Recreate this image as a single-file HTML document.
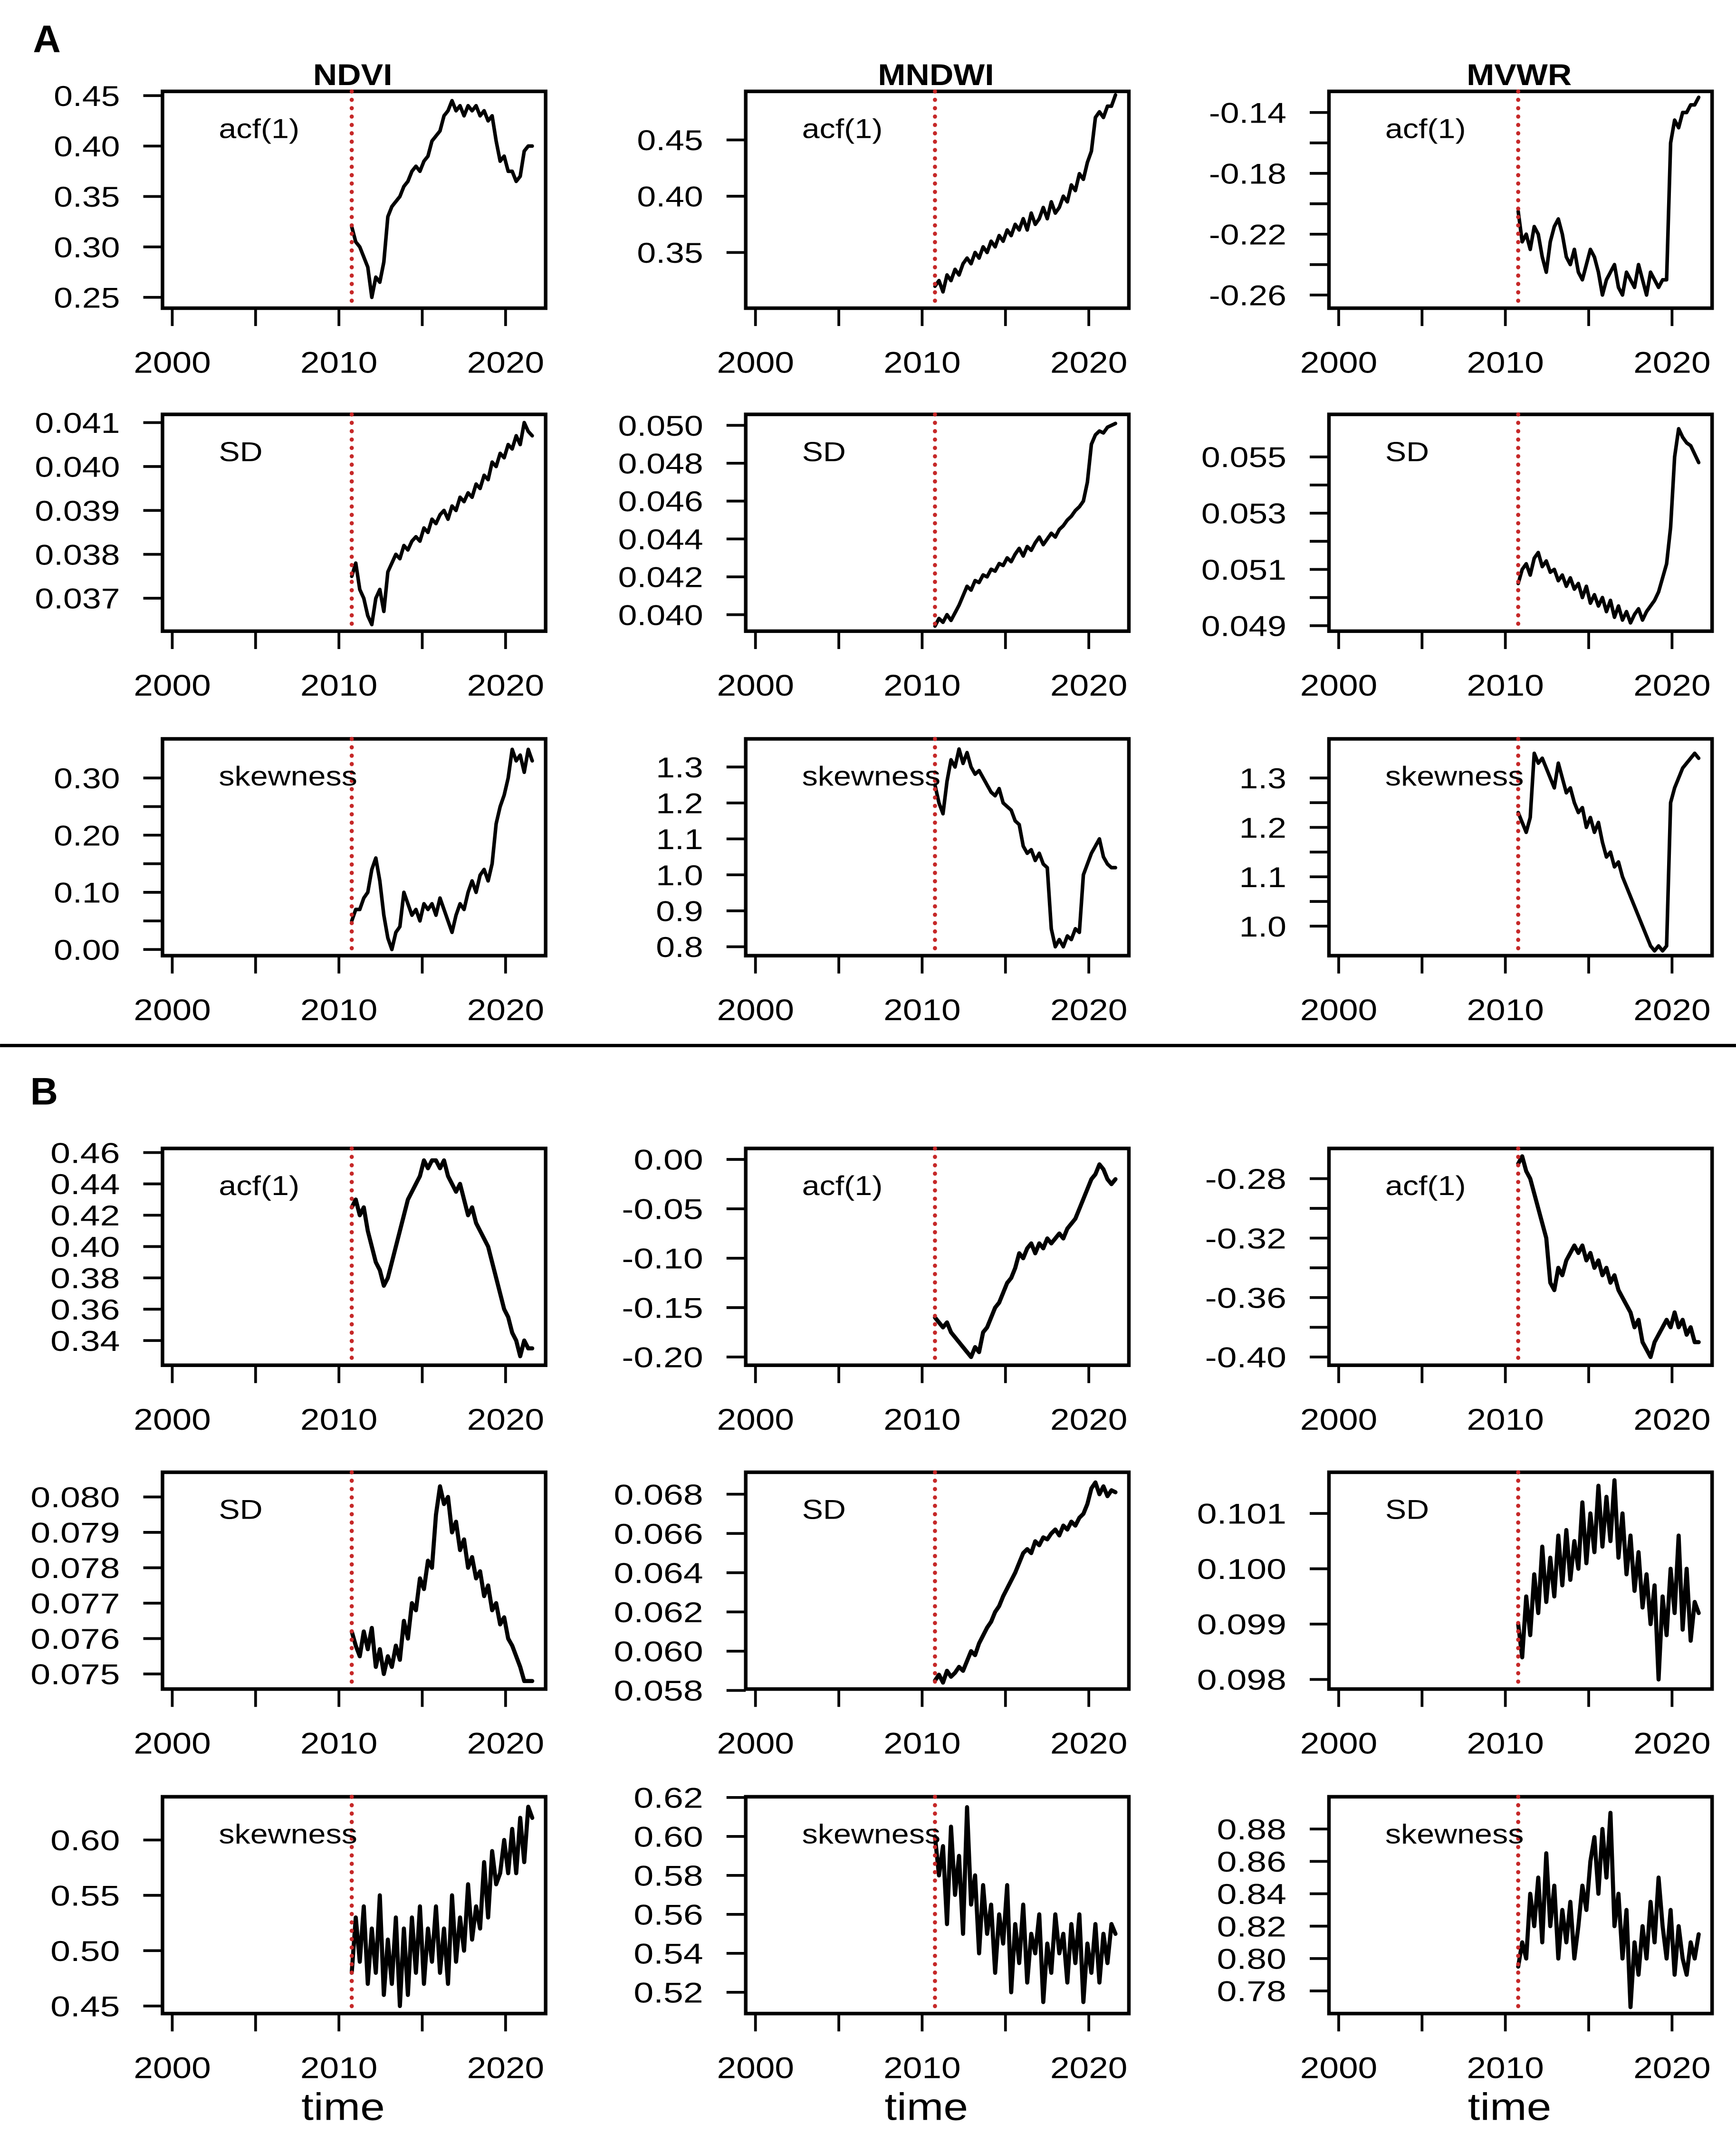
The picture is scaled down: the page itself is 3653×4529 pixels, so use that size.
<!DOCTYPE html>
<html><head><meta charset="utf-8"><style>
html,body{margin:0;padding:0;background:#fff;}
svg{display:block;}
text{font-family:"Liberation Sans",Arial,sans-serif;fill:#000;}
</style></head><body>
<svg id="fig" xmlns="http://www.w3.org/2000/svg" width="3653" height="4529" viewBox="0 0 1265 1568.4">
<rect x="0" y="0" width="1265" height="1568.4" fill="#fff"/>
</svg>
<script>
// ---- data (time runs from startYear to endYear, equally spaced samples) ----
const startYear = 2010.77;
const endYear = 2021.6;
const breakYear = 2010.77;
const xTickVals = [2000, 2005, 2010, 2015, 2020];
const xTickLabels = ['2000', '', '2010', '', '2020'];
const colTitles = ['NDVI', 'MNDWI', 'MVWR'];
const rowLabels = ['acf(1)', 'SD', 'skewness'];

const A_ndvi_acf = [0.32,0.305,0.30,0.29,0.28,0.25,0.27,0.265,0.285,0.33,0.34,0.345,0.35,0.36,0.365,0.375,0.38,0.375,0.385,0.39,0.405,0.41,0.415,0.43,0.435,0.445,0.435,0.44,0.43,0.44,0.435,0.44,0.43,0.435,0.425,0.43,0.405,0.385,0.39,0.375,0.375,0.365,0.37,0.395,0.40,0.40];
const A_mndwi_acf = [0.32,0.325,0.315,0.33,0.325,0.335,0.33,0.34,0.345,0.34,0.35,0.345,0.355,0.35,0.36,0.355,0.365,0.36,0.37,0.365,0.375,0.37,0.38,0.37,0.385,0.375,0.38,0.39,0.38,0.395,0.385,0.39,0.40,0.395,0.41,0.405,0.42,0.415,0.43,0.44,0.47,0.475,0.47,0.48,0.48,0.49];
const A_mvwr_acf = [-0.205,-0.225,-0.22,-0.23,-0.215,-0.22,-0.235,-0.245,-0.225,-0.215,-0.21,-0.22,-0.235,-0.24,-0.23,-0.245,-0.25,-0.24,-0.23,-0.235,-0.245,-0.26,-0.25,-0.245,-0.24,-0.255,-0.26,-0.245,-0.25,-0.255,-0.24,-0.25,-0.26,-0.245,-0.25,-0.255,-0.25,-0.25,-0.16,-0.145,-0.15,-0.14,-0.14,-0.135,-0.135,-0.13];
const A_ndvi_sd = [0.0375,0.0378,0.0372,0.0370,0.0366,0.0364,0.0370,0.0372,0.0367,0.0376,0.0378,0.0380,0.0379,0.0382,0.0381,0.0383,0.0384,0.0383,0.0386,0.0385,0.0388,0.0387,0.0389,0.0390,0.0388,0.0391,0.0390,0.0393,0.0392,0.0394,0.0393,0.0396,0.0395,0.0398,0.0397,0.0401,0.0400,0.0403,0.0402,0.0405,0.0404,0.0407,0.0405,0.0410,0.0408,0.0407];
const A_mndwi_sd = [0.0394,0.0398,0.0396,0.0400,0.0397,0.0401,0.0405,0.0410,0.0415,0.0413,0.0418,0.0417,0.0421,0.0420,0.0424,0.0423,0.0427,0.0426,0.0430,0.0428,0.0432,0.0435,0.0431,0.0436,0.0434,0.0438,0.0441,0.0437,0.0440,0.0443,0.0441,0.0445,0.0447,0.0450,0.0452,0.0455,0.0457,0.0460,0.0470,0.0490,0.0495,0.0497,0.0496,0.0499,0.0500,0.0501];
const A_mvwr_sd = [0.0505,0.0510,0.0512,0.0508,0.0514,0.0516,0.0511,0.0513,0.0509,0.0510,0.0506,0.0508,0.0504,0.0507,0.0503,0.0505,0.0500,0.0504,0.0498,0.0501,0.0497,0.0500,0.0495,0.0499,0.0493,0.0497,0.0492,0.0495,0.0491,0.0494,0.0496,0.0492,0.0495,0.0497,0.0499,0.0502,0.0507,0.0512,0.0525,0.0550,0.0560,0.0557,0.0555,0.0554,0.0551,0.0548];
const A_ndvi_skew = [0.05,0.07,0.07,0.09,0.10,0.14,0.16,0.12,0.06,0.02,0.00,0.03,0.04,0.10,0.08,0.06,0.07,0.05,0.08,0.07,0.08,0.06,0.09,0.07,0.05,0.03,0.06,0.08,0.07,0.10,0.12,0.10,0.13,0.14,0.12,0.15,0.22,0.25,0.27,0.30,0.35,0.33,0.34,0.31,0.35,0.33];
const A_mndwi_skew = [1.25,1.20,1.17,1.26,1.32,1.30,1.35,1.31,1.34,1.30,1.28,1.29,1.27,1.25,1.23,1.22,1.24,1.20,1.19,1.18,1.15,1.14,1.08,1.06,1.07,1.04,1.06,1.03,1.02,0.85,0.80,0.82,0.80,0.83,0.82,0.85,0.84,1.00,1.03,1.06,1.08,1.10,1.05,1.03,1.02,1.02];
const A_mvwr_skew = [1.23,1.21,1.19,1.22,1.35,1.33,1.34,1.32,1.30,1.28,1.33,1.30,1.27,1.28,1.25,1.23,1.24,1.20,1.22,1.19,1.21,1.17,1.14,1.15,1.12,1.13,1.10,1.08,1.06,1.04,1.02,1.00,0.98,0.96,0.95,0.96,0.95,0.96,1.25,1.28,1.30,1.32,1.33,1.34,1.35,1.34];
const B_ndvi_acf = [0.425,0.43,0.42,0.425,0.41,0.40,0.39,0.385,0.375,0.38,0.39,0.40,0.41,0.42,0.43,0.435,0.44,0.445,0.455,0.45,0.455,0.455,0.45,0.455,0.445,0.44,0.435,0.44,0.43,0.42,0.425,0.415,0.41,0.405,0.40,0.39,0.38,0.37,0.36,0.355,0.345,0.34,0.33,0.34,0.335,0.335];
const B_mndwi_acf = [-0.16,-0.165,-0.17,-0.165,-0.175,-0.18,-0.185,-0.19,-0.195,-0.20,-0.19,-0.195,-0.175,-0.17,-0.16,-0.15,-0.145,-0.135,-0.125,-0.12,-0.11,-0.095,-0.10,-0.09,-0.085,-0.095,-0.085,-0.09,-0.08,-0.085,-0.08,-0.075,-0.08,-0.07,-0.065,-0.06,-0.05,-0.04,-0.03,-0.02,-0.015,-0.005,-0.01,-0.02,-0.025,-0.02];
const B_mvwr_acf = [-0.27,-0.265,-0.275,-0.28,-0.29,-0.30,-0.31,-0.32,-0.35,-0.355,-0.34,-0.345,-0.335,-0.33,-0.325,-0.33,-0.325,-0.335,-0.33,-0.34,-0.335,-0.345,-0.34,-0.35,-0.345,-0.355,-0.36,-0.365,-0.37,-0.38,-0.375,-0.39,-0.395,-0.40,-0.39,-0.385,-0.38,-0.375,-0.38,-0.37,-0.38,-0.375,-0.385,-0.38,-0.39,-0.39];
const B_ndvi_sd = [0.0762,0.0758,0.0755,0.0762,0.0757,0.0763,0.0752,0.0757,0.0750,0.0755,0.0752,0.0758,0.0754,0.0765,0.0760,0.0770,0.0768,0.0777,0.0774,0.0782,0.0780,0.0795,0.0803,0.0798,0.0800,0.0790,0.0793,0.0785,0.0788,0.0780,0.0783,0.0777,0.0779,0.0772,0.0775,0.0768,0.0770,0.0764,0.0766,0.0760,0.0758,0.0755,0.0752,0.0748,0.0748,0.0748];
const B_mndwi_sd = [0.0585,0.0588,0.0584,0.0590,0.0587,0.0589,0.0592,0.0590,0.0595,0.0600,0.0598,0.0604,0.0608,0.0612,0.0615,0.0620,0.0623,0.0628,0.0632,0.0636,0.0640,0.0645,0.0650,0.0652,0.0650,0.0656,0.0654,0.0658,0.0657,0.0660,0.0662,0.0659,0.0664,0.0662,0.0666,0.0664,0.0668,0.0670,0.0675,0.0683,0.0686,0.0680,0.0684,0.0679,0.0682,0.0681];
const B_mvwr_sd = [0.0990,0.0984,0.0995,0.0988,0.0999,0.0992,0.1004,0.0994,0.1002,0.0995,0.1006,0.0997,0.1007,0.0998,0.1005,0.1000,0.1012,0.1001,0.1010,0.1003,0.1015,0.1004,0.1013,0.1005,0.1016,0.1002,0.1010,0.0999,0.1006,0.0996,0.1003,0.0993,0.0999,0.0990,0.0997,0.0980,0.0995,0.0988,0.1000,0.0992,0.1006,0.0989,0.1000,0.0987,0.0994,0.0992];
const B_ndvi_skew = [0.48,0.53,0.49,0.54,0.47,0.52,0.48,0.55,0.46,0.51,0.47,0.53,0.45,0.52,0.46,0.53,0.48,0.54,0.47,0.52,0.49,0.54,0.48,0.52,0.47,0.55,0.49,0.53,0.50,0.56,0.51,0.54,0.52,0.58,0.53,0.59,0.56,0.57,0.60,0.57,0.61,0.57,0.62,0.58,0.63,0.62];
const B_mndwi_skew = [0.60,0.58,0.595,0.555,0.605,0.57,0.59,0.55,0.615,0.565,0.58,0.54,0.575,0.55,0.565,0.53,0.56,0.545,0.575,0.52,0.555,0.535,0.565,0.525,0.55,0.54,0.56,0.515,0.545,0.53,0.56,0.54,0.55,0.525,0.555,0.535,0.56,0.515,0.545,0.53,0.555,0.525,0.55,0.535,0.555,0.55];
const B_mvwr_skew = [0.795,0.81,0.80,0.84,0.82,0.85,0.81,0.865,0.82,0.845,0.80,0.83,0.81,0.835,0.80,0.82,0.845,0.83,0.86,0.875,0.84,0.88,0.85,0.89,0.82,0.84,0.80,0.83,0.77,0.81,0.79,0.82,0.80,0.835,0.81,0.85,0.82,0.80,0.83,0.79,0.82,0.80,0.79,0.81,0.80,0.815];

const T = {
 A_ndvi_acf:{lab:[0.25,0.30,0.35,0.40,0.45],minor:[],dec:2},
 A_mndwi_acf:{lab:[0.35,0.40,0.45],minor:[],dec:2},
 A_mvwr_acf:{lab:[-0.26,-0.22,-0.18,-0.14],minor:[-0.24,-0.20,-0.16],dec:2},
 A_ndvi_sd:{lab:[0.037,0.038,0.039,0.040,0.041],minor:[],dec:3},
 A_mndwi_sd:{lab:[0.040,0.042,0.044,0.046,0.048,0.050],minor:[],dec:3},
 A_mvwr_sd:{lab:[0.049,0.051,0.053,0.055],minor:[0.050,0.052,0.054],dec:3},
 A_ndvi_skew:{lab:[0.00,0.10,0.20,0.30],minor:[0.05,0.15,0.25],dec:2},
 A_mndwi_skew:{lab:[0.8,0.9,1.0,1.1,1.2,1.3],minor:[],dec:1},
 A_mvwr_skew:{lab:[1.0,1.1,1.2,1.3],minor:[1.05,1.15,1.25],dec:1},
 B_ndvi_acf:{lab:[0.34,0.36,0.38,0.40,0.42,0.44,0.46],minor:[],dec:2},
 B_mndwi_acf:{lab:[-0.20,-0.15,-0.10,-0.05,0.00],minor:[],dec:2},
 B_mvwr_acf:{lab:[-0.40,-0.36,-0.32,-0.28],minor:[-0.38,-0.34,-0.30],dec:2},
 B_ndvi_sd:{lab:[0.075,0.076,0.077,0.078,0.079,0.080],minor:[],dec:3},
 B_mndwi_sd:{lab:[0.058,0.060,0.062,0.064,0.066,0.068],minor:[],dec:3},
 B_mvwr_sd:{lab:[0.098,0.099,0.100,0.101],minor:[],dec:3},
 B_ndvi_skew:{lab:[0.45,0.50,0.55,0.60],minor:[],dec:2},
 B_mndwi_skew:{lab:[0.52,0.54,0.56,0.58,0.60,0.62],minor:[],dec:2},
 B_mvwr_skew:{lab:[0.78,0.80,0.82,0.84,0.86,0.88],minor:[],dec:2}
};
</script>
<script>
const NS='http://www.w3.org/2000/svg';
const svg=document.getElementById('fig');
const colLeft=[118.4,543.4,968.4], boxW=279.2, boxH=158;
const rowTop=[66.6,302,538.5,837,1073,1309.5];
const year2000Off=7.1, pxPerYear=12.145;
const YA={
 A_ndvi_acf:[0.45,69.7,0.25,216.7], A_mndwi_acf:[0.45,102,0.35,184], A_mvwr_acf:[-0.14,82,-0.26,215],
 A_ndvi_sd:[0.041,308,0.037,436], A_mndwi_sd:[0.050,310,0.040,448], A_mvwr_sd:[0.055,333,0.049,456],
 A_ndvi_skew:[0.30,567,0.00,692], A_mndwi_skew:[1.3,559,0.8,690], A_mvwr_skew:[1.3,567,1.0,675],
 B_ndvi_acf:[0.46,840,0.34,977], B_mndwi_acf:[0.00,845,-0.20,989], B_mvwr_acf:[-0.28,859,-0.40,989],
 B_ndvi_sd:[0.080,1091,0.075,1220], B_mndwi_sd:[0.068,1089,0.058,1232], B_mvwr_sd:[0.101,1103,0.098,1224],
 B_ndvi_skew:[0.60,1341,0.45,1462], B_mndwi_skew:[0.62,1310,0.52,1452], B_mvwr_skew:[0.88,1333,0.78,1451]
};
const DATA={A_ndvi_acf,A_mndwi_acf,A_mvwr_acf,A_ndvi_sd,A_mndwi_sd,A_mvwr_sd,A_ndvi_skew,A_mndwi_skew,A_mvwr_skew,
 B_ndvi_acf,B_mndwi_acf,B_mvwr_acf,B_ndvi_sd,B_mndwi_sd,B_mvwr_sd,B_ndvi_skew,B_mndwi_skew,B_mvwr_skew};

function el(tag,attrs,parent){const e=document.createElementNS(NS,tag);for(const k in attrs)e.setAttribute(k,attrs[k]);(parent||svg).appendChild(e);return e;}
function txt(parent,x,y,s,size,anchor,sx,weight){
  const t=el('text',{transform:`translate(${x},${y}) scale(${sx},1)`,'font-size':size,'text-anchor':anchor,'font-weight':weight||'normal'},parent);
  t.textContent=s;return t;
}

const metrics=['acf','sd','skew'], idx=['ndvi','mndwi','mvwr'];
['A','B'].forEach((P,pi)=>{
  metrics.forEach((m,ri)=>{
    idx.forEach((c,ci)=>{
      const key=`${P}_${c}_${m}`;
      const L=colLeft[ci], top=rowTop[pi*3+ri], bot=top+boxH;
      const a=YA[key];
      const ys=v=>a[1]+(v-a[0])*(a[3]-a[1])/(a[2]-a[0]);
      const xs=yr=>L+year2000Off+(yr-2000)*pxPerYear;
      const g=el('g',{});
      
      
      const sx = P==='A'?1.18:1.24;
      const box=el('rect',{x:L,y:top,width:boxW,height:boxH,fill:'none',stroke:'#000','stroke-width':2.6},g);
      
      
      const yax=el('g',{},g);
      
      
      const tk=T[key];
      tk.lab.concat(tk.minor).forEach(v=>{
        const y=ys(v);
        el('line',{x1:L-14,x2:L,y1:y,y2:y,stroke:'#000','stroke-width':2},yax);
      });
      tk.lab.forEach(v=>{
        const t=txt(yax,L-31,ys(v)+7.5,v.toFixed(tk.dec),21,'end',sx);
        
        
      });
      const xax=el('g',{},g);
      
      
      xTickVals.forEach((yr,k)=>{
        const x=xs(yr);
        el('line',{x1:x,x2:x,y1:bot+1,y2:bot+13,stroke:'#000','stroke-width':2},xax);
        if(xTickLabels[k]){
          const t=txt(xax,x,bot+47,xTickLabels[k],22,'middle',1.15);
          
          
        }
      });
      const d=DATA[key], n=d.length;
      const pts=d.map((v,i)=>`${xs(startYear+i*(endYear-startYear)/(n-1)).toFixed(2)},${ys(v).toFixed(2)}`).join(' ');
      const line=el('polyline',{points:pts,fill:'none',stroke:'#000','stroke-width':P==='A'?2.6:3,'stroke-linejoin':'round','stroke-linecap':'round'},g);
      
      
      const bx=xs(breakYear);
      const br=el('line',{x1:bx,x2:bx,y1:top,y2:bot,stroke:'#c62828','stroke-width':3,'stroke-dasharray':'0.1,6','stroke-linecap':'round'},g);
      
      
      const lb=txt(g,L+41,top+34,rowLabels[ri],20,'start',1.15);
      
      
    });
  });
});
[257,682,1107].forEach((x,i)=>{
  const t=txt(svg,x,62,colTitles[i],22,'middle',1.1,'bold');
  
  
});
[250,675,1100].forEach(x=>{
  const t=txt(svg,x,1545,'time',28,'middle',1.15);
  
  
});
const la=txt(svg,24,38,'A',28,'start',1,'bold');


const lbB=txt(svg,22,805,'B',28,'start',1,'bold');


const sep=el('line',{x1:0,x2:1265,y1:762,y2:762,stroke:'#000','stroke-width':2.4});


</script>
</body></html>
